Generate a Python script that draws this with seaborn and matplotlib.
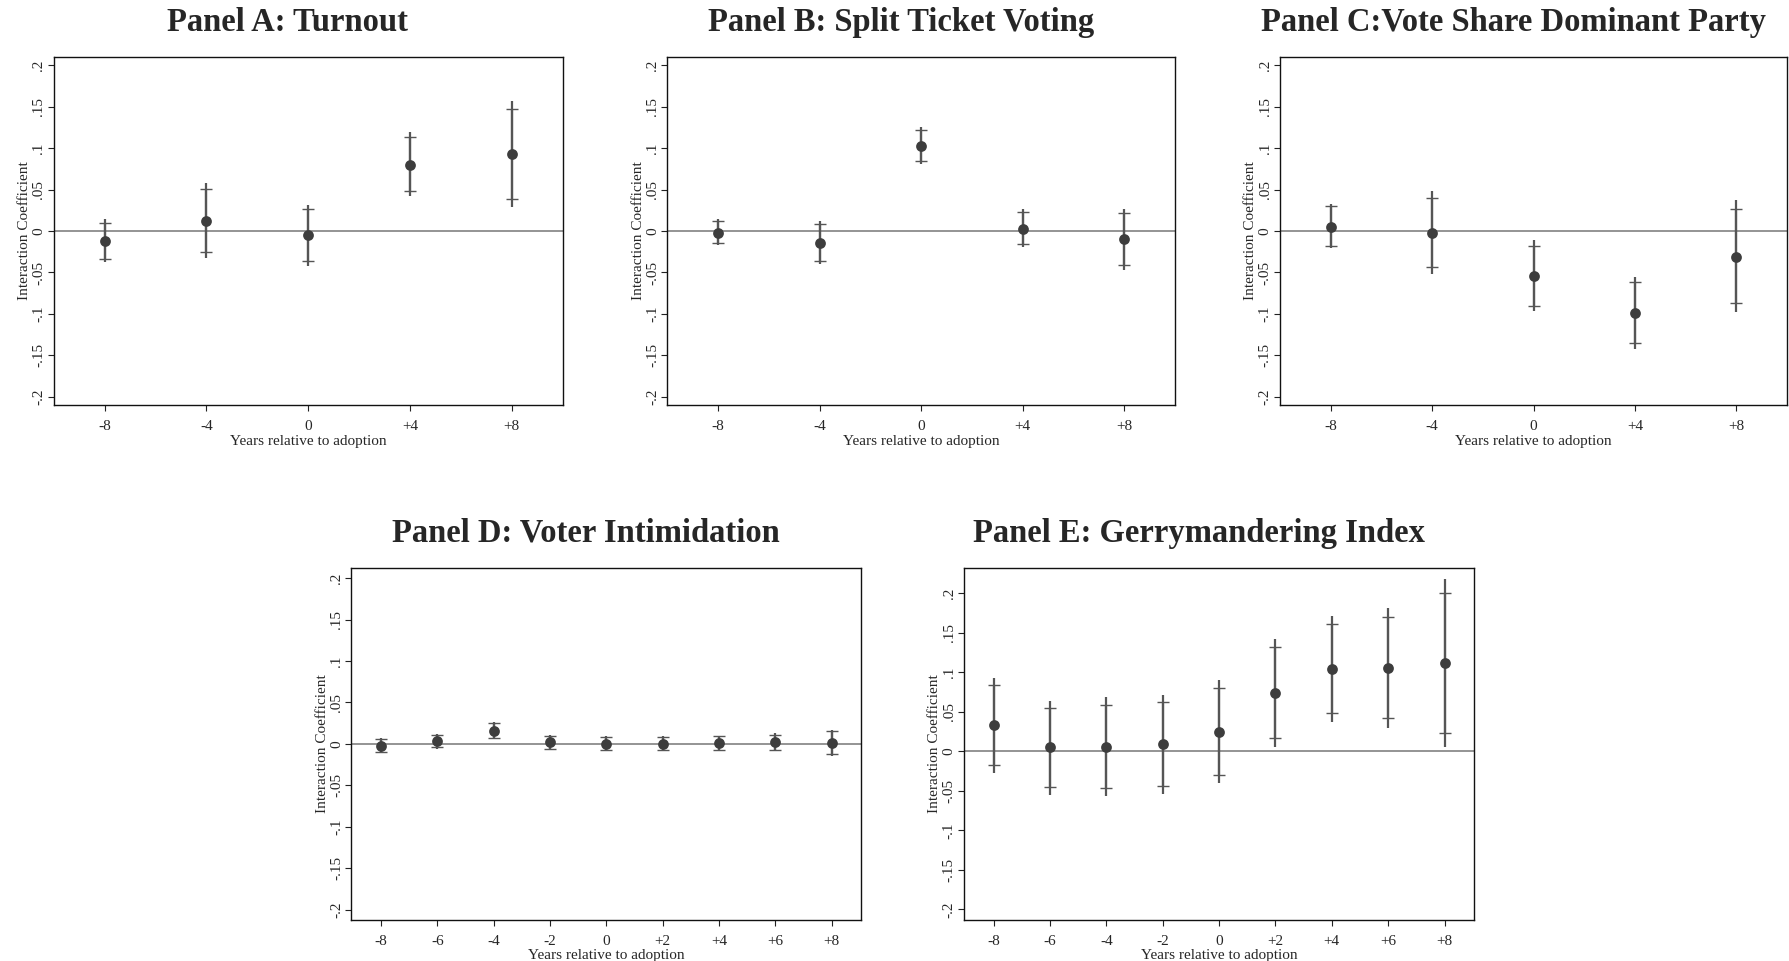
import numpy as np
import matplotlib
matplotlib.use("Agg")
import matplotlib.pyplot as plt
import seaborn as sns

# Panel A: Turnout
years_a = [-8, -4, 0, 4, 8]
coef_a = [-0.012, 0.012, -0.005, 0.080, 0.093]
lo90_a = [-0.034, -0.025, -0.036, 0.048, 0.039]
hi90_a = [0.010, 0.051, 0.027, 0.114, 0.147]
lo95_a = [-0.038, -0.032, -0.042, 0.042, 0.029]
hi95_a = [0.014, 0.058, 0.032, 0.119, 0.157]

# Panel B: Split Ticket Voting
years_b = [-8, -4, 0, 4, 8]
coef_b = [-0.002, -0.014, 0.103, 0.003, -0.010]
lo90_b = [-0.015, -0.036, 0.084, -0.016, -0.041]
hi90_b = [0.012, 0.009, 0.122, 0.023, 0.022]
lo95_b = [-0.017, -0.040, 0.081, -0.019, -0.047]
hi95_b = [0.015, 0.012, 0.125, 0.026, 0.027]

# Panel C: Vote Share Dominant Party
years_c = [-8, -4, 0, 4, 8]
coef_c = [0.005, -0.002, -0.054, -0.099, -0.031]
lo90_c = [-0.018, -0.044, -0.090, -0.135, -0.087]
hi90_c = [0.030, 0.040, -0.018, -0.061, 0.027]
lo95_c = [-0.021, -0.052, -0.096, -0.143, -0.098]
hi95_c = [0.033, 0.048, -0.011, -0.055, 0.037]

# Panel D: Voter Intimidation
years_d = [-8, -6, -4, -2, 0, 2, 4, 6, 8]
coef_d = [-0.002, 0.003, 0.016, 0.002, 0.000, 0.000, 0.001, 0.002, 0.001]
lo90_d = [-0.010, -0.004, 0.007, -0.006, -0.008, -0.008, -0.007, -0.007, -0.012]
hi90_d = [0.006, 0.011, 0.025, 0.010, 0.008, 0.008, 0.009, 0.011, 0.015]
lo95_d = [-0.011, -0.006, 0.006, -0.008, -0.009, -0.009, -0.009, -0.008, -0.015]
hi95_d = [0.007, 0.012, 0.026, 0.011, 0.010, 0.010, 0.010, 0.013, 0.017]

# Panel E: Gerrymandering Index
years_e = [-8, -6, -4, -2, 0, 2, 4, 6, 8]
coef_e = [0.033, 0.005, 0.006, 0.009, 0.025, 0.074, 0.104, 0.106, 0.112]
lo90_e = [-0.017, -0.045, -0.047, -0.044, -0.030, 0.017, 0.048, 0.042, 0.023]
hi90_e = [0.084, 0.055, 0.059, 0.062, 0.080, 0.132, 0.161, 0.170, 0.201]
lo95_e = [-0.027, -0.055, -0.057, -0.054, -0.040, 0.006, 0.037, 0.029, 0.006]
hi95_e = [0.093, 0.064, 0.069, 0.071, 0.090, 0.142, 0.171, 0.181, 0.218]

yticks = [-0.2, -0.15, -0.1, -0.05, 0, 0.05, 0.1, 0.15, 0.2]
ytick_labels = ["-.2", "-.15", "-.1", "-.05", "0", ".05", ".1", ".15", ".2"]

sns.set_theme(style="ticks")
plt.rcParams["font.family"] = ["Liberation Serif", "DejaVu Serif"]

fig = plt.figure(figsize=(17.89, 9.61), dpi=100)

panels = [
    ("Panel A: Turnout", years_a, coef_a, lo90_a, hi90_a, lo95_a, hi95_a,
     [0.030, 0.5786, 0.2845, 0.362], (-10, 10), (-0.21, 0.21)),
    ("Panel B: Split Ticket Voting", years_b, coef_b, lo90_b, hi90_b, lo95_b, hi95_b,
     [0.3731, 0.5786, 0.2836, 0.362], (-10, 10), (-0.21, 0.21)),
    ("Panel C:Vote Share Dominant Party", years_c, coef_c, lo90_c, hi90_c, lo95_c, hi95_c,
     [0.7155, 0.5786, 0.2834, 0.362], (-10, 10), (-0.21, 0.21)),
    ("Panel D: Voter Intimidation", years_d, coef_d, lo90_d, hi90_d, lo95_d, hi95_d,
     [0.1964, 0.0431, 0.2851, 0.3657], (-9.05, 9.05), (-0.212, 0.212)),
    ("Panel E: Gerrymandering Index", years_e, coef_e, lo90_e, hi90_e, lo95_e, hi95_e,
     [0.5389, 0.0431, 0.2851, 0.3657], (-9.05, 9.05), (-0.213, 0.232)),
]

for title, yrs, coef, lo90, hi90, lo95, hi95, pos, xlim, ylim in panels:
    ax = fig.add_axes(pos)
    yrs = np.array(yrs)
    coef = np.array(coef)
    ax.axhline(0, color="#777777", lw=1.1, zorder=1)
    # 95% interval line, 90% interval caps
    ax.vlines(yrs, lo95, hi95, color="#555555", lw=1.6, zorder=2)
    ax.errorbar(yrs, coef, yerr=[coef - np.array(lo90), np.array(hi90) - coef],
                fmt="none", ecolor="#555555", elinewidth=1.6, capsize=4.5,
                capthick=1.0, zorder=2)
    sns.scatterplot(x=yrs, y=coef, ax=ax, color="#3d3d3d", s=60,
                    edgecolor="#3d3d3d", linewidth=0, zorder=3)
    ax.set_xlim(*xlim)
    ax.set_ylim(*ylim)
    ax.set_xticks(yrs)
    ax.set_xticklabels([f"+{v}" if v > 0 else str(v) for v in yrs], fontsize=11)
    ax.set_yticks(yticks)
    ax.set_yticklabels(ytick_labels, fontsize=11, rotation=90, va="center")
    ax.tick_params(axis="x", length=4, width=0.8, color="#222222", pad=7)
    ax.tick_params(axis="y", length=4, width=0.8, color="#222222", pad=2)
    ax.set_xlabel("Years relative to adoption", fontsize=11, labelpad=1)
    ax.set_ylabel("Interaction Coefficient", fontsize=11, labelpad=1)
    for s in ax.spines.values():
        s.set_color("#111111")
        s.set_linewidth(1.0)
    ax.set_title(title, fontsize=23.5, fontweight="bold", x=0.46, pad=19)

fig.savefig("out.png", dpi=100)
